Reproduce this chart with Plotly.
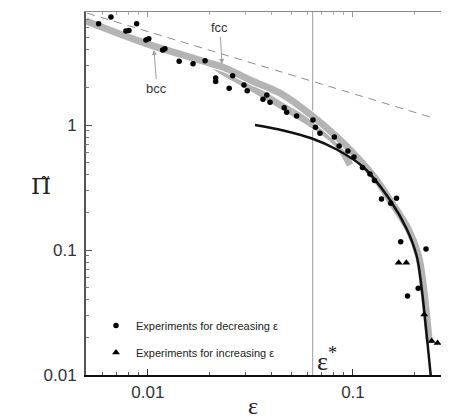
import math
import plotly.graph_objects as go

# ---------------- data ----------------
# Experiments for decreasing epsilon (circles)
dec_eps = [0.00575, 0.0066, 0.00881, 0.00781, 0.00808, 0.00978, 0.0101, 0.0118, 0.0121,
           0.0142, 0.0166, 0.0190, 0.0214, 0.0214, 0.0249, 0.0259, 0.0294, 0.0305,
           0.0364, 0.0380, 0.0394, 0.0462, 0.0475, 0.0531, 0.0638, 0.0656, 0.0690,
           0.0811, 0.0856, 0.0945, 0.1011, 0.1112, 0.1210, 0.1273, 0.1377, 0.1527,
           0.1630, 0.1709, 0.2270, 0.2080, 0.1845]
dec_pi = [6.46, 7.31, 6.46, 5.65, 5.70, 4.79, 4.90, 3.98, 4.08,
          3.23, 3.09, 3.27, 2.38, 2.23, 1.97, 2.48, 2.09, 1.88,
          1.61, 1.74, 1.52, 1.375, 1.264, 1.18, 1.096, 0.958, 0.858,
          0.802, 0.679, 0.619, 0.555, 0.457, 0.406, 0.360, 0.256, 0.2364,
          0.2593, 0.1165, 0.1019, 0.0494, 0.0429]

# Experiments for increasing epsilon (triangles)
inc_eps = [0.1671, 0.1820, 0.2225, 0.2420, 0.2584]
inc_pi = [0.0791, 0.0791, 0.0305, 0.0187, 0.0180]

# simulation bands (grey)
fcc_eps = [0.00499, 0.01023, 0.01486, 0.02006, 0.02328, 0.03145, 0.0457, 0.0640, 0.0833,
           0.1043, 0.1305, 0.1515, 0.1861, 0.2089, 0.2207, 0.2283, 0.2361]
fcc_pi = [6.79, 4.37, 3.63, 3.12, 2.90, 2.29, 1.74, 1.165, 0.806,
          0.557, 0.363, 0.251, 0.1472, 0.0895, 0.0506, 0.0308, 0.0180]
bcc_eps = [0.00499, 0.01023, 0.01486, 0.02006, 0.02328, 0.03145, 0.0457, 0.0640, 0.0833, 0.0967]
bcc_pi = [6.79, 4.37, 3.63, 3.12, 2.67, 2.02, 1.40, 1.0, 0.714, 0.479]

# theory curve (black)
theory_eps = [0.03327, 0.0457, 0.0631, 0.0833, 0.1122, 0.1515, 0.1828, 0.2045, 0.2158,
              0.2233, 0.2309, 0.2393]
theory_pi = [1.0, 0.904, 0.780, 0.637, 0.461, 0.251, 0.1472, 0.0895, 0.0506,
             0.0308, 0.0180, 0.0100]

# dashed reference line
dash_eps = [0.00505, 0.2375]
dash_pi = [7.85, 1.16]

# critical strain
EPS_STAR = 0.0636
vline_pi = [0.01, 10.0]

x_tickvals = [0.01, 0.1]
x_ticktext = ["0.01", "0.1"]
x_minor = [0.005, 0.006, 0.007, 0.008, 0.009, 0.02, 0.03, 0.04, 0.05, 0.06, 0.07, 0.08,
           0.09, 0.2, 0.3]
y_tickvals = [0.01, 0.1, 1]
y_ticktext = ["0.01", "0.1", "1"]
y_minor = [0.02, 0.03, 0.04, 0.05, 0.06, 0.07, 0.08, 0.09, 0.2, 0.3, 0.4, 0.5, 0.6, 0.7,
           0.8, 0.9, 2, 3, 4, 5, 6, 7, 8]

X_RANGE = [math.log10(0.004989), -0.5415]
Y_RANGE = [-2, 0.904]

GREY = "#b4b4b4"
SANS = "Liberation Sans, Arial, sans-serif"
SERIF = "Liberation Serif, Times New Roman, serif"

# page body has an 8px default margin: plot area on screen = 86..447 x 12..375
OFF = 8
PL, PR, PT, PB = 86 - OFF, 447 - OFF, 12 - OFF, 375 - OFF
W, H = 449, 418


def px(x):
    return (x - 86) / 361


def py(y):
    return (375 - y) / 363


fig = go.Figure()

fig.add_trace(go.Scatter(x=[EPS_STAR, EPS_STAR], y=vline_pi, mode="lines",
                         line=dict(color="#9a9a9a", width=1), showlegend=False,
                         hoverinfo="skip"))
fig.add_trace(go.Scatter(x=dash_eps, y=dash_pi, mode="lines",
                         line=dict(color="#8c8c8c", width=1, dash="8px,6px"),
                         showlegend=False, hoverinfo="skip"))

for e, p in ((bcc_eps, bcc_pi), (fcc_eps, fcc_pi)):
    fig.add_trace(go.Scatter(x=e, y=p, mode="lines", line=dict(color="white", width=9, shape="spline"),
                             showlegend=False, hoverinfo="skip"))
    fig.add_trace(go.Scatter(x=e, y=p, mode="lines", line=dict(color=GREY, width=7, shape="spline"),
                             showlegend=False, hoverinfo="skip"))

fig.add_trace(go.Scatter(x=theory_eps, y=theory_pi, mode="lines",
                         line=dict(color="#111111", width=2.5, shape="spline"),
                         showlegend=False, hoverinfo="skip"))

fig.add_trace(go.Scatter(x=dec_eps, y=dec_pi, mode="markers", name="Experiments for decreasing ε",
                         legendgroup="a",
                         marker=dict(symbol="circle", size=5.5, color="black")))
fig.add_trace(go.Scatter(x=inc_eps, y=inc_pi, mode="markers", name="Experiments for increasing ε",
                         legendgroup="b",
                         marker=dict(symbol="triangle-up", size=7, color="black")))

# overlay axes for the lighter top/right frame
fig.add_trace(go.Scatter(x=[], y=[], xaxis="x2", yaxis="y2", showlegend=False))

axis_common = dict(type="log", showgrid=False, zeroline=False, ticks="inside")

fig.update_layout(
    width=W, height=H,
    margin=dict(l=PL, r=W - PR, t=PT, b=H - PB, autoexpand=False),
    paper_bgcolor="white", plot_bgcolor="white",
    showlegend=True,
    xaxis=dict(**axis_common, range=X_RANGE, tickmode="array", tickvals=x_tickvals,
               ticktext=x_ticktext, ticklen=6, tickwidth=1, tickcolor="#333",
               showline=True, linecolor="#111", linewidth=2,
               minor=dict(ticks="inside", tickmode="array", tickvals=x_minor, ticklen=3,
                          tickcolor="#555", tickwidth=1),
               tickfont=dict(family=SANS, size=17, color="#333"), ticklabelstandoff=1),
    yaxis=dict(**axis_common, range=Y_RANGE, tickmode="array", tickvals=y_tickvals,
               ticktext=y_ticktext, ticklen=6, tickwidth=1, tickcolor="#555",
               showline=True, linecolor="#555", linewidth=2,
               minor=dict(ticks="inside", tickmode="array", tickvals=y_minor, ticklen=3,
                          tickcolor="#777", tickwidth=1),
               tickfont=dict(family=SANS, size=17, color="#333"), ticklabelstandoff=4),
    xaxis2=dict(**axis_common, range=X_RANGE, overlaying="x", side="top", anchor="y2",
                tickmode="array", tickvals=x_tickvals, ticklen=5, tickcolor="#999",
                showticklabels=False, showline=True, linecolor="#8a8a8a", linewidth=1.2,
                minor=dict(ticks="inside", tickmode="array", tickvals=x_minor, ticklen=3,
                           tickcolor="#aaa")),
    yaxis2=dict(**axis_common, range=Y_RANGE, overlaying="y", side="right", anchor="x2",
                tickmode="array", tickvals=y_tickvals, ticklen=5, tickcolor="#999",
                showticklabels=False, showline=True, linecolor="#8a8a8a", linewidth=1.2,
                minor=dict(ticks="inside", tickmode="array", tickvals=y_minor, ticklen=3,
                           tickcolor="#aaa")),
    legend=dict(x=px(96), y=py(311), xanchor="left", yanchor="top",
                bgcolor="rgba(0,0,0,0)", font=dict(family=SANS, size=11, color="#222"),
                tracegroupgap=8, traceorder="grouped", itemwidth=30),
)

ann = []
# y title: Pi with combining tilde
ann.append(dict(xref="paper", yref="paper", x=px(29), y=py(186),
                text="Π\u0303", showarrow=False,
                font=dict(family="DejaVu Serif, serif", size=23, color="#222")))
# x title
ann.append(dict(xref="paper", yref="paper", x=px(253), y=py(406),
                text="ε", showarrow=False, font=dict(family=SERIF, size=24, color="#222"),
                yanchor="middle"))
# eps* label
ann.append(dict(xref="x", yref="y", x=math.log10(0.0745), y=math.log10(0.0132),
                text="ε<sup>*</sup>", showarrow=False,
                font=dict(family=SERIF, size=26, color="#222")))
# bcc label with arrow pointing up to the band
ann.append(dict(xref="x", yref="y", x=math.log10(0.0107), y=math.log10(3.98), ax=3, ay=38,
                text="bcc", showarrow=True, arrowhead=2, arrowsize=1, arrowwidth=1,
                arrowcolor="#a0a0a0", font=dict(family=SANS, size=13, color="#333")))
# fcc label with arrow pointing down to the band
ann.append(dict(xref="x", yref="y", x=math.log10(0.02296), y=math.log10(3.08), ax=-2, ay=-36,
                text="fcc", showarrow=True, arrowhead=2, arrowsize=1, arrowwidth=1,
                arrowcolor="#a0a0a0", font=dict(family=SANS, size=13, color="#333")))
fig.update_layout(annotations=ann)

fig.write_html("out.html")
